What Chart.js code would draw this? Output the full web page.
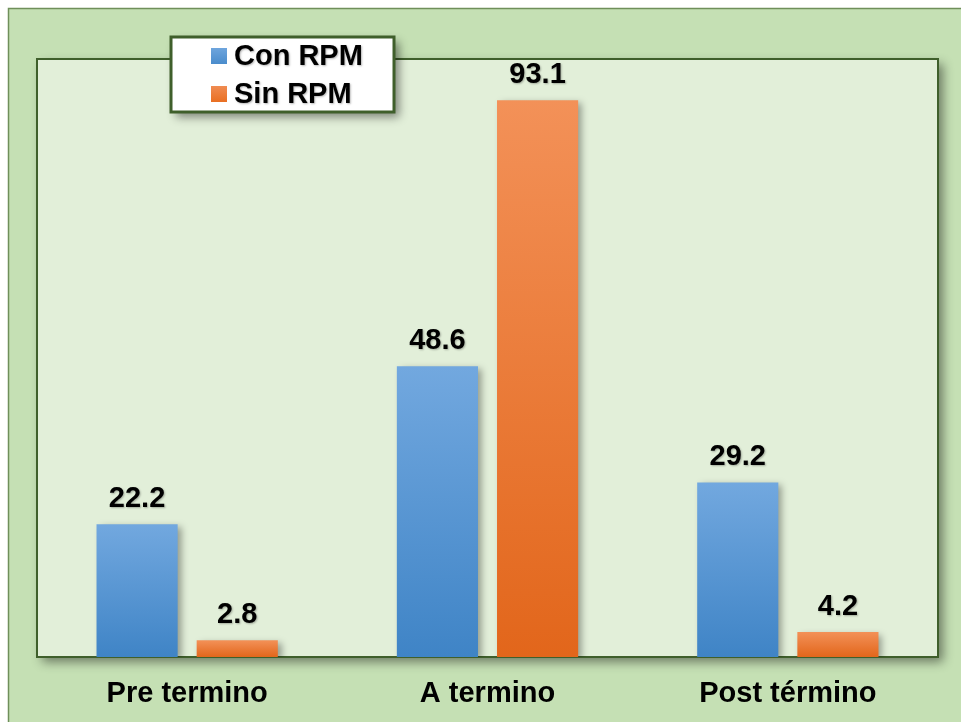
<!DOCTYPE html>
<html>
<head>
<meta charset="utf-8">
<script src="https://cdn.jsdelivr.net/npm/chart.js@4/dist/chart.umd.min.js"></script>
<style>
  html, body { margin: 0; padding: 0; background: #ffffff; }
  #wrap { width: 961px; height: 722px; }
</style>
</head>
<body>
<div id="wrap"><canvas id="c" width="961" height="722"></canvas></div>
<script>
// Chart data
const categories = ['Pre termino', 'A termino', 'Post término'];
const seriesNames = ['Con RPM', 'Sin RPM'];
const conRPM = [22.2, 48.6, 29.2];
const sinRPM = [2.8, 93.1, 4.2];

const FONT = '"Liberation Sans", Arial, Helvetica, sans-serif';
const TEXT_SIZE = 29;

// Vertical gradient per bar, light at the top, darker at the base
function barGradient(top, bottom) {
  return function (ctx) {
    const chart = ctx.chart;
    const area = chart.chartArea;
    if (!area || ctx.type !== 'data') return bottom;
    const y = chart.scales.y;
    const yTop = y.getPixelForValue(ctx.raw);
    const yBase = y.getPixelForValue(0);
    const g = chart.ctx.createLinearGradient(0, yTop, 0, yBase);
    g.addColorStop(0, top);
    g.addColorStop(1, bottom);
    return g;
  };
}

function softTextShadow(ctx) {
  ctx.shadowColor = 'rgba(0,0,0,0.28)';
  ctx.shadowBlur = 2;
  ctx.shadowOffsetX = 1;
  ctx.shadowOffsetY = 1;
}

// Backgrounds: outer panel and plot area with drop shadow
const framePlugin = {
  id: 'frame',
  beforeDraw(chart) {
    const { ctx, chartArea: a } = chart;
    ctx.save();
    ctx.fillStyle = '#ffffff';
    ctx.fillRect(0, 0, chart.width, chart.height);
    ctx.fillStyle = '#c5e0b4';
    ctx.fillRect(8, 8, chart.width, chart.height);
    ctx.strokeStyle = '#6f8f5a';
    ctx.lineWidth = 1.5;
    ctx.beginPath();
    ctx.moveTo(8.5, chart.height + 2);
    ctx.lineTo(8.5, 8.5);
    ctx.lineTo(chart.width + 2, 8.5);
    ctx.stroke();

    // plot area
    ctx.shadowColor = 'rgba(0,0,0,0.45)';
    ctx.shadowBlur = 10;
    ctx.shadowOffsetX = 5;
    ctx.shadowOffsetY = 5;
    ctx.fillStyle = '#e2efd9';
    ctx.fillRect(a.left, a.top, a.right - a.left, a.bottom - a.top);
    ctx.shadowColor = 'transparent';
    ctx.strokeStyle = '#3f5f2b';
    ctx.lineWidth = 2;
    ctx.strokeRect(a.left, a.top, a.right - a.left, a.bottom - a.top);
    ctx.restore();
  },
  beforeDatasetsDraw(chart) {
    const ctx = chart.ctx;
    ctx.save();
    ctx.shadowColor = 'rgba(0,0,0,0.35)';
    ctx.shadowBlur = 7;
    ctx.shadowOffsetX = 4;
    ctx.shadowOffsetY = 3;
  },
  afterDatasetsDraw(chart) {
    const ctx = chart.ctx;
    ctx.restore();

    // value labels above each bar
    ctx.save();
    softTextShadow(ctx);
    ctx.font = 'bold ' + TEXT_SIZE + 'px ' + FONT;
    ctx.textAlign = 'center';
    ctx.textBaseline = 'alphabetic';
    ctx.fillStyle = '#000000';
    chart.data.datasets.forEach((ds, di) => {
      const meta = chart.getDatasetMeta(di);
      meta.data.forEach((bar, i) => {
        ctx.fillText(ds.data[i].toFixed(1), bar.x, bar.y - 17);
      });
    });
    ctx.restore();

    // legend box overlapping the plot's top edge
    const lx = 171, ly = 37, lw = 223, lh = 75;
    ctx.save();
    ctx.shadowColor = 'rgba(0,0,0,0.45)';
    ctx.shadowBlur = 9;
    ctx.shadowOffsetX = 5;
    ctx.shadowOffsetY = 5;
    ctx.fillStyle = '#ffffff';
    ctx.fillRect(lx, ly, lw, lh);
    ctx.shadowColor = 'transparent';
    ctx.strokeStyle = '#3f5f2b';
    ctx.lineWidth = 3;
    ctx.strokeRect(lx, ly, lw, lh);
    const swatches = [['#6ea5dd', '#4a8ccc'], ['#f08c52', '#e96f22']];
    ctx.font = 'bold ' + TEXT_SIZE + 'px ' + FONT;
    ctx.textAlign = 'left';
    ctx.textBaseline = 'middle';
    chart.data.datasets.forEach((ds, i) => {
      const cy = 56 + i * 38;
      const g = ctx.createLinearGradient(0, cy - 8, 0, cy + 8);
      g.addColorStop(0, swatches[i][0]);
      g.addColorStop(1, swatches[i][1]);
      ctx.shadowColor = 'transparent';
      ctx.fillStyle = g;
      ctx.fillRect(211, cy - 8, 16, 16);
      softTextShadow(ctx);
      ctx.fillStyle = '#000000';
      ctx.fillText(ds.label, 234, cy + 1);
    });
    ctx.restore();
  }
};

new Chart(document.getElementById('c'), {
  type: 'bar',
  data: {
    labels: categories,
    datasets: [
      {
        label: seriesNames[0],
        data: conRPM,
        backgroundColor: barGradient('#72a8df', '#3f84c6'),
        borderWidth: 0
      },
      {
        label: seriesNames[1],
        data: sinRPM,
        backgroundColor: barGradient('#f39158', '#e2661b'),
        borderWidth: 0
      }
    ]
  },
  options: {
    responsive: false,
    animation: false,
    devicePixelRatio: 1,
    layout: { padding: { left: 37, top: 59, right: 23, bottom: 0 } },
    datasets: { bar: { categoryPercentage: 0.667, barPercentage: 0.81 } },
    plugins: {
      legend: { display: false },
      tooltip: { enabled: false }
    },
    scales: {
      x: {
        grid: { display: false, drawTicks: false },
        border: { display: false },
        ticks: {
          color: '#000000',
          padding: 20,
          font: { family: FONT, size: TEXT_SIZE, weight: 'bold' }
        },
        afterFit(scale) { scale.height = 65; }
      },
      y: {
        display: false,
        min: 0,
        max: 100
      }
    }
  },
  plugins: [framePlugin]
});
</script>
</body>
</html>
